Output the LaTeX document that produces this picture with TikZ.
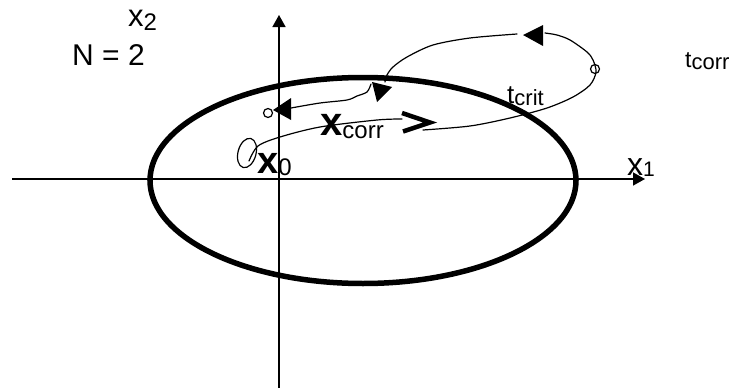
\documentclass[tikz,border=0pt]{standalone}
\usepackage{fontspec}
\setmainfont{Liberation Sans}
\usetikzlibrary{arrows.meta}
\newcommand{\fsz}[1]{\fontsize{#1}{#1}\selectfont}
\begin{document}
\begin{tikzpicture}[x=1pt,y=-1pt,
  axis/.style={line width=1.5pt,-{Triangle[length=12pt,width=13pt]}},
  traj/.style={line width=1.2pt,line cap=round},
  head/.style={fill=black},
  lbl/.style={inner sep=0pt,anchor=base west},
  dot/.style={circle,draw,line width=1.2pt,minimum size=9pt,inner sep=0pt}]
\useasboundingbox (0,0) rectangle (731,388);
% axes
\coordinate (hl) at (12,179);
\coordinate (hr) at (645,179);
\coordinate (vb) at (279,388);
\coordinate (vt) at (279,15);
\draw[axis] (hl) -- (hr);
\draw[axis] (vb) -- (vt);
% region
\coordinate (ec) at (363,180.5);
\draw[line width=5.5pt] (ec) ellipse [x radius=213, y radius=103];
% small loop at x0
\coordinate (lc) at (247,153);
\draw[traj,rotate around={-15:(lc)}] (lc) ellipse [x radius=9, y radius=15];
% trajectory part 1
\draw[traj] plot[smooth] coordinates {(249,161) (258,146) (280,137) (320,127) (377,120) (402,119)};
% chevron
\draw[line width=4.5pt,line join=miter] (402,113) -- (430,122.5) -- (403,131.5);
% part 2
\node[dot] (tc) at (595,69) {};
\draw[traj] plot[smooth] coordinates {(423,130) (470,126) (510,118) (547,108) (573,97) (590,85) (596,72) (593,60) (587,52) (570,40) (557,35) (545,33)};
\fill[head] (523,35) -- (543,25) -- (543,46) -- cycle;
% part 3
\draw[traj] plot[smooth] coordinates {(517,34) (470,38) (433,45) (407,57) (393,67) (387,75) (385,82)};
\fill[head] (372,82) -- (392,87) -- (377,102) -- cycle;
% part 4
\draw[traj] plot[smooth] coordinates {(371,84) (367,92) (357,96) (347,100) (320,103) (291,108)};
\fill[head] (273,110) -- (291,98) -- (291,120) -- cycle;
\node[dot] (xe) at (268,113) {};
% labels
\node[lbl] (lx2) at (128,27) {\fsz{31}x\raisebox{-3pt}{\fsz{24}2}};
\node[lbl] (lN) at (72,65) {\fsz{30}N = 2};
\node[lbl] (ltcorr) at (685,67) {\fsz{23}t\raisebox{-2pt}{\fsz{22}corr}};
\node[lbl] (ltcrit) at (507,103) {\fsz{26}t\raisebox{-2pt}{\fsz{22}crit}};
\node[lbl] (lxcorr) at (320,135) {\fsz{40}\bfseries x\raisebox{-3pt}{\fsz{24}\mdseries corr}};
\node[lbl] (lx0) at (257,173) {\fsz{38}\bfseries x\raisebox{-2pt}{\fsz{24}\mdseries 0}};
\node[lbl] (lx1) at (627,175) {\fsz{32}x\raisebox{-1pt}{\fsz{21}1}};
\end{tikzpicture}
\end{document}
